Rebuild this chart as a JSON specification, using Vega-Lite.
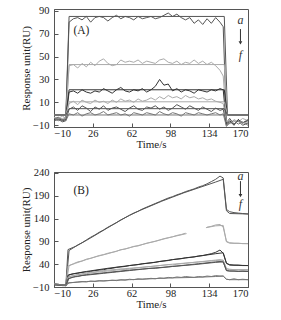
{
"$schema":"https://vega.github.io/schema/vega-lite/v6.json",
"padding":{"left":20,"top":5,"right":4,"bottom":2},
"spacing":17,
"config":{
 "view":{"stroke":"#555","strokeWidth":1},
 "font":"Liberation Serif",
 "axis":{"domainColor":"#555","tickColor":"#555","labelFont":"Liberation Serif","titleFont":"Liberation Serif","labelFontSize":10.5,"titleFontSize":11,"titleFontWeight":"normal","labelColor":"#222","titleColor":"#222","grid":false,"tickSize":-4,"labelOverlap":false},
 "axisX":{"titlePadding":0,"labelPadding":5},
 "axisY":{"titlePadding":1,"labelPadding":9}
},
"datasets":{
"A":[
{"c":"a","k":"d","t":-10,"v":-4},{"c":"a","k":"d","t":-6,"v":-3},{"c":"a","k":"d","t":-2,"v":-5},{"c":"a","k":"d","t":1,"v":-4},{"c":"a","k":"d","t":4,"v":80},{"c":"a","k":"d","t":8,"v":83},{"c":"a","k":"d","t":12,"v":84},{"c":"a","k":"d","t":16,"v":82},{"c":"a","k":"d","t":20,"v":85},{"c":"a","k":"d","t":24,"v":80},{"c":"a","k":"d","t":28,"v":84},{"c":"a","k":"d","t":32,"v":85},{"c":"a","k":"d","t":36,"v":84},{"c":"a","k":"d","t":40,"v":81},{"c":"a","k":"d","t":44,"v":84},{"c":"a","k":"d","t":48,"v":86},{"c":"a","k":"d","t":52,"v":83},{"c":"a","k":"d","t":56,"v":85},{"c":"a","k":"d","t":60,"v":84},{"c":"a","k":"d","t":64,"v":82},{"c":"a","k":"d","t":68,"v":85},{"c":"a","k":"d","t":72,"v":83},{"c":"a","k":"d","t":76,"v":84},{"c":"a","k":"d","t":80,"v":85},{"c":"a","k":"d","t":84,"v":83},{"c":"a","k":"d","t":88,"v":84},{"c":"a","k":"d","t":92,"v":86},{"c":"a","k":"d","t":96,"v":88},{"c":"a","k":"d","t":100,"v":85},{"c":"a","k":"d","t":104,"v":87},{"c":"a","k":"d","t":108,"v":84},{"c":"a","k":"d","t":112,"v":82},{"c":"a","k":"d","t":116,"v":84},{"c":"a","k":"d","t":120,"v":79},{"c":"a","k":"d","t":124,"v":82},{"c":"a","k":"d","t":128,"v":78},{"c":"a","k":"d","t":132,"v":83},{"c":"a","k":"d","t":136,"v":79},{"c":"a","k":"d","t":140,"v":84},{"c":"a","k":"d","t":144,"v":80},{"c":"a","k":"d","t":147,"v":76},{"c":"a","k":"d","t":150,"v":-8},{"c":"a","k":"d","t":153,"v":-4},{"c":"a","k":"d","t":157,"v":-9},{"c":"a","k":"d","t":161,"v":-5},{"c":"a","k":"d","t":165,"v":-8},{"c":"a","k":"d","t":170,"v":-5},
{"c":"b","k":"d","t":-10,"v":-3},{"c":"b","k":"d","t":-6,"v":-5},{"c":"b","k":"d","t":-2,"v":-4},{"c":"b","k":"d","t":1,"v":-3},{"c":"b","k":"d","t":4,"v":42},{"c":"b","k":"d","t":8,"v":43},{"c":"b","k":"d","t":12,"v":40},{"c":"b","k":"d","t":16,"v":44},{"c":"b","k":"d","t":20,"v":41},{"c":"b","k":"d","t":24,"v":45},{"c":"b","k":"d","t":28,"v":42},{"c":"b","k":"d","t":32,"v":46},{"c":"b","k":"d","t":36,"v":48},{"c":"b","k":"d","t":40,"v":44},{"c":"b","k":"d","t":44,"v":42},{"c":"b","k":"d","t":48,"v":43},{"c":"b","k":"d","t":52,"v":47},{"c":"b","k":"d","t":56,"v":45},{"c":"b","k":"d","t":60,"v":46},{"c":"b","k":"d","t":64,"v":45},{"c":"b","k":"d","t":68,"v":47},{"c":"b","k":"d","t":72,"v":44},{"c":"b","k":"d","t":76,"v":46},{"c":"b","k":"d","t":80,"v":45},{"c":"b","k":"d","t":84,"v":44},{"c":"b","k":"d","t":88,"v":47},{"c":"b","k":"d","t":92,"v":48},{"c":"b","k":"d","t":96,"v":45},{"c":"b","k":"d","t":100,"v":44},{"c":"b","k":"d","t":104,"v":46},{"c":"b","k":"d","t":108,"v":43},{"c":"b","k":"d","t":112,"v":45},{"c":"b","k":"d","t":116,"v":44},{"c":"b","k":"d","t":120,"v":47},{"c":"b","k":"d","t":124,"v":44},{"c":"b","k":"d","t":128,"v":46},{"c":"b","k":"d","t":132,"v":43},{"c":"b","k":"d","t":136,"v":45},{"c":"b","k":"d","t":140,"v":42},{"c":"b","k":"d","t":144,"v":38},{"c":"b","k":"d","t":147,"v":33},{"c":"b","k":"d","t":150,"v":-6},{"c":"b","k":"d","t":153,"v":-9},{"c":"b","k":"d","t":157,"v":-5},{"c":"b","k":"d","t":161,"v":-7},{"c":"b","k":"d","t":165,"v":-4},{"c":"b","k":"d","t":170,"v":-6},
{"c":"c","k":"d","t":-10,"v":-5},{"c":"c","k":"d","t":-6,"v":-4},{"c":"c","k":"d","t":-2,"v":-6},{"c":"c","k":"d","t":1,"v":-5},{"c":"c","k":"d","t":4,"v":19},{"c":"c","k":"d","t":8,"v":20},{"c":"c","k":"d","t":12,"v":18},{"c":"c","k":"d","t":16,"v":21},{"c":"c","k":"d","t":20,"v":19},{"c":"c","k":"d","t":24,"v":18},{"c":"c","k":"d","t":28,"v":20},{"c":"c","k":"d","t":32,"v":19},{"c":"c","k":"d","t":36,"v":22},{"c":"c","k":"d","t":40,"v":20},{"c":"c","k":"d","t":44,"v":18},{"c":"c","k":"d","t":48,"v":21},{"c":"c","k":"d","t":52,"v":23},{"c":"c","k":"d","t":56,"v":20},{"c":"c","k":"d","t":60,"v":19},{"c":"c","k":"d","t":64,"v":21},{"c":"c","k":"d","t":68,"v":20},{"c":"c","k":"d","t":72,"v":22},{"c":"c","k":"d","t":76,"v":19},{"c":"c","k":"d","t":80,"v":21},{"c":"c","k":"d","t":84,"v":24},{"c":"c","k":"d","t":88,"v":30},{"c":"c","k":"d","t":92,"v":25},{"c":"c","k":"d","t":96,"v":26},{"c":"c","k":"d","t":100,"v":20},{"c":"c","k":"d","t":104,"v":22},{"c":"c","k":"d","t":108,"v":19},{"c":"c","k":"d","t":112,"v":21},{"c":"c","k":"d","t":116,"v":20},{"c":"c","k":"d","t":120,"v":18},{"c":"c","k":"d","t":124,"v":21},{"c":"c","k":"d","t":128,"v":20},{"c":"c","k":"d","t":132,"v":19},{"c":"c","k":"d","t":136,"v":21},{"c":"c","k":"d","t":140,"v":20},{"c":"c","k":"d","t":144,"v":22},{"c":"c","k":"d","t":147,"v":21},{"c":"c","k":"d","t":150,"v":-9},{"c":"c","k":"d","t":153,"v":-6},{"c":"c","k":"d","t":157,"v":-10},{"c":"c","k":"d","t":161,"v":-5},{"c":"c","k":"d","t":165,"v":-8},{"c":"c","k":"d","t":170,"v":-6},
{"c":"d","k":"d","t":-10,"v":-3},{"c":"d","k":"d","t":-6,"v":-4},{"c":"d","k":"d","t":-2,"v":-2},{"c":"d","k":"d","t":1,"v":-4},{"c":"d","k":"d","t":4,"v":9},{"c":"d","k":"d","t":8,"v":11},{"c":"d","k":"d","t":12,"v":8},{"c":"d","k":"d","t":16,"v":12},{"c":"d","k":"d","t":20,"v":10},{"c":"d","k":"d","t":24,"v":9},{"c":"d","k":"d","t":28,"v":12},{"c":"d","k":"d","t":32,"v":10},{"c":"d","k":"d","t":36,"v":11},{"c":"d","k":"d","t":40,"v":9},{"c":"d","k":"d","t":44,"v":12},{"c":"d","k":"d","t":48,"v":10},{"c":"d","k":"d","t":52,"v":13},{"c":"d","k":"d","t":56,"v":11},{"c":"d","k":"d","t":60,"v":12},{"c":"d","k":"d","t":64,"v":10},{"c":"d","k":"d","t":68,"v":13},{"c":"d","k":"d","t":72,"v":11},{"c":"d","k":"d","t":76,"v":12},{"c":"d","k":"d","t":80,"v":14},{"c":"d","k":"d","t":84,"v":12},{"c":"d","k":"d","t":88,"v":15},{"c":"d","k":"d","t":92,"v":13},{"c":"d","k":"d","t":96,"v":16},{"c":"d","k":"d","t":100,"v":14},{"c":"d","k":"d","t":104,"v":15},{"c":"d","k":"d","t":108,"v":13},{"c":"d","k":"d","t":112,"v":16},{"c":"d","k":"d","t":116,"v":14},{"c":"d","k":"d","t":120,"v":15},{"c":"d","k":"d","t":124,"v":13},{"c":"d","k":"d","t":128,"v":14},{"c":"d","k":"d","t":132,"v":12},{"c":"d","k":"d","t":136,"v":13},{"c":"d","k":"d","t":140,"v":11},{"c":"d","k":"d","t":144,"v":10},{"c":"d","k":"d","t":147,"v":9},{"c":"d","k":"d","t":150,"v":-7},{"c":"d","k":"d","t":153,"v":-5},{"c":"d","k":"d","t":157,"v":-9},{"c":"d","k":"d","t":161,"v":-6},{"c":"d","k":"d","t":165,"v":-8},{"c":"d","k":"d","t":170,"v":-7},
{"c":"e","k":"d","t":-10,"v":-6},{"c":"e","k":"d","t":-6,"v":-5},{"c":"e","k":"d","t":-2,"v":-7},{"c":"e","k":"d","t":1,"v":-6},{"c":"e","k":"d","t":4,"v":4},{"c":"e","k":"d","t":8,"v":6},{"c":"e","k":"d","t":12,"v":3},{"c":"e","k":"d","t":16,"v":7},{"c":"e","k":"d","t":20,"v":5},{"c":"e","k":"d","t":24,"v":2},{"c":"e","k":"d","t":28,"v":6},{"c":"e","k":"d","t":32,"v":4},{"c":"e","k":"d","t":36,"v":7},{"c":"e","k":"d","t":40,"v":3},{"c":"e","k":"d","t":44,"v":5},{"c":"e","k":"d","t":48,"v":6},{"c":"e","k":"d","t":52,"v":4},{"c":"e","k":"d","t":56,"v":2},{"c":"e","k":"d","t":60,"v":5},{"c":"e","k":"d","t":64,"v":7},{"c":"e","k":"d","t":68,"v":4},{"c":"e","k":"d","t":72,"v":3},{"c":"e","k":"d","t":76,"v":6},{"c":"e","k":"d","t":80,"v":5},{"c":"e","k":"d","t":84,"v":7},{"c":"e","k":"d","t":88,"v":4},{"c":"e","k":"d","t":92,"v":6},{"c":"e","k":"d","t":96,"v":3},{"c":"e","k":"d","t":100,"v":5},{"c":"e","k":"d","t":104,"v":8},{"c":"e","k":"d","t":108,"v":6},{"c":"e","k":"d","t":112,"v":4},{"c":"e","k":"d","t":116,"v":7},{"c":"e","k":"d","t":120,"v":5},{"c":"e","k":"d","t":124,"v":3},{"c":"e","k":"d","t":128,"v":6},{"c":"e","k":"d","t":132,"v":4},{"c":"e","k":"d","t":136,"v":2},{"c":"e","k":"d","t":140,"v":5},{"c":"e","k":"d","t":144,"v":3},{"c":"e","k":"d","t":147,"v":4},{"c":"e","k":"d","t":150,"v":-10},{"c":"e","k":"d","t":153,"v":-7},{"c":"e","k":"d","t":157,"v":-9},{"c":"e","k":"d","t":161,"v":-6},{"c":"e","k":"d","t":165,"v":-10},{"c":"e","k":"d","t":170,"v":-8},
{"c":"f","k":"d","t":-10,"v":-4},{"c":"f","k":"d","t":-6,"v":-6},{"c":"f","k":"d","t":-2,"v":-5},{"c":"f","k":"d","t":1,"v":-6},{"c":"f","k":"d","t":4,"v":0},{"c":"f","k":"d","t":8,"v":-1},{"c":"f","k":"d","t":12,"v":1},{"c":"f","k":"d","t":16,"v":-2},{"c":"f","k":"d","t":20,"v":0},{"c":"f","k":"d","t":24,"v":1},{"c":"f","k":"d","t":28,"v":-1},{"c":"f","k":"d","t":32,"v":0},{"c":"f","k":"d","t":36,"v":2},{"c":"f","k":"d","t":40,"v":-1},{"c":"f","k":"d","t":44,"v":0},{"c":"f","k":"d","t":48,"v":1},{"c":"f","k":"d","t":52,"v":-1},{"c":"f","k":"d","t":56,"v":0},{"c":"f","k":"d","t":60,"v":-2},{"c":"f","k":"d","t":64,"v":1},{"c":"f","k":"d","t":68,"v":0},{"c":"f","k":"d","t":72,"v":-1},{"c":"f","k":"d","t":76,"v":1},{"c":"f","k":"d","t":80,"v":0},{"c":"f","k":"d","t":84,"v":-1},{"c":"f","k":"d","t":88,"v":2},{"c":"f","k":"d","t":92,"v":0},{"c":"f","k":"d","t":96,"v":-1},{"c":"f","k":"d","t":100,"v":1},{"c":"f","k":"d","t":104,"v":0},{"c":"f","k":"d","t":108,"v":-2},{"c":"f","k":"d","t":112,"v":1},{"c":"f","k":"d","t":116,"v":0},{"c":"f","k":"d","t":120,"v":-1},{"c":"f","k":"d","t":124,"v":1},{"c":"f","k":"d","t":128,"v":0},{"c":"f","k":"d","t":132,"v":-1},{"c":"f","k":"d","t":136,"v":0},{"c":"f","k":"d","t":140,"v":1},{"c":"f","k":"d","t":144,"v":-1},{"c":"f","k":"d","t":147,"v":0},{"c":"f","k":"d","t":150,"v":-11},{"c":"f","k":"d","t":153,"v":-8},{"c":"f","k":"d","t":157,"v":-6},{"c":"f","k":"d","t":161,"v":-9},{"c":"f","k":"d","t":165,"v":-7},{"c":"f","k":"d","t":170,"v":-10},
{"c":"a","k":"f","t":-10,"v":-1},{"c":"a","k":"f","t":1,"v":-1},{"c":"a","k":"f","t":4,"v":85},{"c":"a","k":"f","t":148,"v":85},{"c":"a","k":"f","t":151,"v":-1},{"c":"a","k":"f","t":170,"v":-1},
{"c":"b","k":"f","t":-10,"v":-1},{"c":"b","k":"f","t":1,"v":-1},{"c":"b","k":"f","t":4,"v":43},{"c":"b","k":"f","t":148,"v":43},{"c":"b","k":"f","t":151,"v":-1},{"c":"b","k":"f","t":170,"v":-1},
{"c":"c","k":"f","t":-10,"v":-1},{"c":"c","k":"f","t":1,"v":-1},{"c":"c","k":"f","t":4,"v":21},{"c":"c","k":"f","t":148,"v":21},{"c":"c","k":"f","t":151,"v":-1},{"c":"c","k":"f","t":170,"v":-1},
{"c":"d","k":"f","t":-10,"v":-1},{"c":"d","k":"f","t":1,"v":-1},{"c":"d","k":"f","t":4,"v":10.5},{"c":"d","k":"f","t":148,"v":10.5},{"c":"d","k":"f","t":151,"v":-1},{"c":"d","k":"f","t":170,"v":-1},
{"c":"e","k":"f","t":-10,"v":-1},{"c":"e","k":"f","t":1,"v":-1},{"c":"e","k":"f","t":4,"v":4.5},{"c":"e","k":"f","t":148,"v":4.5},{"c":"e","k":"f","t":151,"v":-1},{"c":"e","k":"f","t":170,"v":-1},
{"c":"f","k":"f","t":-10,"v":-1},{"c":"f","k":"f","t":170,"v":-1}
],
"B":[
{"c":"a","k":"d","t":-10,"v":-3},{"c":"a","k":"d","t":-6,"v":-4},{"c":"a","k":"d","t":-2,"v":-6},{"c":"a","k":"d","t":1,"v":-7},{"c":"a","k":"d","t":4,"v":70},{"c":"a","k":"d","t":8,"v":76},{"c":"a","k":"d","t":12,"v":82},{"c":"a","k":"d","t":16,"v":87},{"c":"a","k":"d","t":20,"v":93},{"c":"a","k":"d","t":24,"v":99},{"c":"a","k":"d","t":28,"v":104},{"c":"a","k":"d","t":32,"v":110},{"c":"a","k":"d","t":36,"v":115},{"c":"a","k":"d","t":40,"v":121},{"c":"a","k":"d","t":44,"v":126},{"c":"a","k":"d","t":48,"v":131},{"c":"a","k":"d","t":52,"v":137},{"c":"a","k":"d","t":56,"v":142},{"c":"a","k":"d","t":60,"v":147},{"c":"a","k":"d","t":64,"v":152},{"c":"a","k":"d","t":68,"v":156},{"c":"a","k":"d","t":72,"v":161},{"c":"a","k":"d","t":76,"v":165},{"c":"a","k":"d","t":80,"v":169},{"c":"a","k":"d","t":84,"v":173},{"c":"a","k":"d","t":88,"v":177},{"c":"a","k":"d","t":92,"v":181},{"c":"a","k":"d","t":96,"v":185},{"c":"a","k":"d","t":100,"v":188},{"c":"a","k":"d","t":104,"v":192},{"c":"a","k":"d","t":108,"v":195},{"c":"a","k":"d","t":112,"v":199},{"c":"a","k":"d","t":116,"v":202},{"c":"a","k":"d","t":120,"v":205},{"c":"a","k":"d","t":124,"v":209},{"c":"a","k":"d","t":128,"v":212},{"c":"a","k":"d","t":132,"v":216},{"c":"a","k":"d","t":136,"v":221},{"c":"a","k":"d","t":140,"v":226},{"c":"a","k":"d","t":144,"v":233},{"c":"a","k":"d","t":147,"v":229},{"c":"a","k":"d","t":150,"v":160},{"c":"a","k":"d","t":153,"v":155},{"c":"a","k":"d","t":157,"v":153},{"c":"a","k":"d","t":161,"v":152},{"c":"a","k":"d","t":165,"v":151},{"c":"a","k":"d","t":170,"v":150},
{"c":"a","k":"f","t":-10,"v":-4},{"c":"a","k":"f","t":1,"v":-6},{"c":"a","k":"f","t":3,"v":72},{"c":"a","k":"f","t":10,"v":79},{"c":"a","k":"f","t":20,"v":92},{"c":"a","k":"f","t":30,"v":106},{"c":"a","k":"f","t":40,"v":120},{"c":"a","k":"f","t":50,"v":134},{"c":"a","k":"f","t":60,"v":147},{"c":"a","k":"f","t":70,"v":158},{"c":"a","k":"f","t":80,"v":168},{"c":"a","k":"f","t":90,"v":178},{"c":"a","k":"f","t":100,"v":187},{"c":"a","k":"f","t":110,"v":196},{"c":"a","k":"f","t":120,"v":204},{"c":"a","k":"f","t":130,"v":212},{"c":"a","k":"f","t":140,"v":220},{"c":"a","k":"f","t":147,"v":226},{"c":"a","k":"f","t":150,"v":157},{"c":"a","k":"f","t":153,"v":151},{"c":"a","k":"f","t":170,"v":150},
{"c":"b","k":"d","s":1,"t":-10,"v":-4},{"c":"b","k":"d","s":1,"t":-6,"v":-5},{"c":"b","k":"d","s":1,"t":-2,"v":-6},{"c":"b","k":"d","s":1,"t":1,"v":-7},{"c":"b","k":"d","s":1,"t":4,"v":37},{"c":"b","k":"d","s":1,"t":8,"v":41},{"c":"b","k":"d","s":1,"t":12,"v":45},{"c":"b","k":"d","s":1,"t":16,"v":47},{"c":"b","k":"d","s":1,"t":20,"v":51},{"c":"b","k":"d","s":1,"t":24,"v":53},{"c":"b","k":"d","s":1,"t":28,"v":56},{"c":"b","k":"d","s":1,"t":32,"v":59},{"c":"b","k":"d","s":1,"t":36,"v":61},{"c":"b","k":"d","s":1,"t":40,"v":64},{"c":"b","k":"d","s":1,"t":44,"v":66},{"c":"b","k":"d","s":1,"t":48,"v":68},{"c":"b","k":"d","s":1,"t":52,"v":72},{"c":"b","k":"d","s":1,"t":56,"v":73},{"c":"b","k":"d","s":1,"t":60,"v":76},{"c":"b","k":"d","s":1,"t":64,"v":79},{"c":"b","k":"d","s":1,"t":68,"v":80},{"c":"b","k":"d","s":1,"t":72,"v":83},{"c":"b","k":"d","s":1,"t":76,"v":86},{"c":"b","k":"d","s":1,"t":80,"v":88},{"c":"b","k":"d","s":1,"t":84,"v":90},{"c":"b","k":"d","s":1,"t":88,"v":93},{"c":"b","k":"d","s":1,"t":92,"v":96},{"c":"b","k":"d","s":1,"t":96,"v":98},{"c":"b","k":"d","s":1,"t":100,"v":100},{"c":"b","k":"d","s":1,"t":104,"v":103},{"c":"b","k":"d","s":1,"t":108,"v":105},{"c":"b","k":"d","s":1,"t":112,"v":108},
{"c":"b","k":"d","s":2,"t":132,"v":121},{"c":"b","k":"d","s":2,"t":136,"v":123},{"c":"b","k":"d","s":2,"t":140,"v":126},{"c":"b","k":"d","s":2,"t":144,"v":127},{"c":"b","k":"d","s":2,"t":147,"v":121},{"c":"b","k":"d","s":2,"t":150,"v":90},{"c":"b","k":"d","s":2,"t":153,"v":87},{"c":"b","k":"d","s":2,"t":157,"v":86},{"c":"b","k":"d","s":2,"t":161,"v":86},{"c":"b","k":"d","s":2,"t":165,"v":85},{"c":"b","k":"d","s":2,"t":170,"v":85},
{"c":"b","k":"f","s":1,"t":-10,"v":-4},{"c":"b","k":"f","s":1,"t":1,"v":-6},{"c":"b","k":"f","s":1,"t":3,"v":36},{"c":"b","k":"f","s":1,"t":10,"v":42},{"c":"b","k":"f","s":1,"t":20,"v":50},{"c":"b","k":"f","s":1,"t":30,"v":57},{"c":"b","k":"f","s":1,"t":40,"v":63},{"c":"b","k":"f","s":1,"t":50,"v":70},{"c":"b","k":"f","s":1,"t":60,"v":76},{"c":"b","k":"f","s":1,"t":70,"v":82},{"c":"b","k":"f","s":1,"t":80,"v":88},{"c":"b","k":"f","s":1,"t":90,"v":94},{"c":"b","k":"f","s":1,"t":100,"v":100},{"c":"b","k":"f","s":1,"t":113,"v":107},
{"c":"b","k":"f","s":2,"t":131,"v":120},{"c":"b","k":"f","s":2,"t":140,"v":124},{"c":"b","k":"f","s":2,"t":147,"v":125},{"c":"b","k":"f","s":2,"t":150,"v":89},{"c":"b","k":"f","s":2,"t":153,"v":86},{"c":"b","k":"f","s":2,"t":170,"v":85},
{"c":"c","k":"d","t":-10,"v":-4},{"c":"c","k":"d","t":-6,"v":-5},{"c":"c","k":"d","t":-2,"v":-7},{"c":"c","k":"d","t":1,"v":-7},{"c":"c","k":"d","t":4,"v":17},{"c":"c","k":"d","t":8,"v":19},{"c":"c","k":"d","t":12,"v":20},{"c":"c","k":"d","t":16,"v":22},{"c":"c","k":"d","t":20,"v":23},{"c":"c","k":"d","t":24,"v":24},{"c":"c","k":"d","t":28,"v":26},{"c":"c","k":"d","t":32,"v":27},{"c":"c","k":"d","t":36,"v":28},{"c":"c","k":"d","t":40,"v":30},{"c":"c","k":"d","t":44,"v":31},{"c":"c","k":"d","t":48,"v":33},{"c":"c","k":"d","t":52,"v":34},{"c":"c","k":"d","t":56,"v":35},{"c":"c","k":"d","t":60,"v":37},{"c":"c","k":"d","t":64,"v":38},{"c":"c","k":"d","t":68,"v":39},{"c":"c","k":"d","t":72,"v":41},{"c":"c","k":"d","t":76,"v":42},{"c":"c","k":"d","t":80,"v":43},{"c":"c","k":"d","t":84,"v":44},{"c":"c","k":"d","t":88,"v":46},{"c":"c","k":"d","t":92,"v":47},{"c":"c","k":"d","t":96,"v":48},{"c":"c","k":"d","t":100,"v":50},{"c":"c","k":"d","t":104,"v":51},{"c":"c","k":"d","t":108,"v":52},{"c":"c","k":"d","t":112,"v":54},{"c":"c","k":"d","t":116,"v":55},{"c":"c","k":"d","t":120,"v":56},{"c":"c","k":"d","t":124,"v":58},{"c":"c","k":"d","t":128,"v":59},{"c":"c","k":"d","t":132,"v":61},{"c":"c","k":"d","t":136,"v":63},{"c":"c","k":"d","t":140,"v":66},{"c":"c","k":"d","t":144,"v":71},{"c":"c","k":"d","t":147,"v":64},{"c":"c","k":"d","t":150,"v":42},{"c":"c","k":"d","t":153,"v":39},{"c":"c","k":"d","t":157,"v":38},{"c":"c","k":"d","t":161,"v":38},{"c":"c","k":"d","t":165,"v":37},{"c":"c","k":"d","t":170,"v":37},
{"c":"c","k":"f","t":-10,"v":-5},{"c":"c","k":"f","t":1,"v":-6},{"c":"c","k":"f","t":3,"v":16},{"c":"c","k":"f","t":10,"v":20},{"c":"c","k":"f","t":20,"v":24},{"c":"c","k":"f","t":40,"v":31},{"c":"c","k":"f","t":60,"v":37},{"c":"c","k":"f","t":80,"v":43},{"c":"c","k":"f","t":100,"v":50},{"c":"c","k":"f","t":120,"v":56},{"c":"c","k":"f","t":140,"v":63},{"c":"c","k":"f","t":147,"v":65},{"c":"c","k":"f","t":150,"v":42},{"c":"c","k":"f","t":153,"v":38},{"c":"c","k":"f","t":170,"v":37},
{"c":"d","k":"d","t":-10,"v":-3},{"c":"d","k":"d","t":-6,"v":-5},{"c":"d","k":"d","t":-2,"v":-5},{"c":"d","k":"d","t":1,"v":-6},{"c":"d","k":"d","t":4,"v":13},{"c":"d","k":"d","t":8,"v":15},{"c":"d","k":"d","t":12,"v":17},{"c":"d","k":"d","t":16,"v":18},{"c":"d","k":"d","t":20,"v":19},{"c":"d","k":"d","t":24,"v":21},{"c":"d","k":"d","t":28,"v":22},{"c":"d","k":"d","t":32,"v":23},{"c":"d","k":"d","t":36,"v":24},{"c":"d","k":"d","t":40,"v":25},{"c":"d","k":"d","t":44,"v":26},{"c":"d","k":"d","t":48,"v":27},{"c":"d","k":"d","t":52,"v":29},{"c":"d","k":"d","t":56,"v":28},{"c":"d","k":"d","t":60,"v":30},{"c":"d","k":"d","t":64,"v":31},{"c":"d","k":"d","t":68,"v":32},{"c":"d","k":"d","t":72,"v":33},{"c":"d","k":"d","t":76,"v":34},{"c":"d","k":"d","t":80,"v":35},{"c":"d","k":"d","t":84,"v":36},{"c":"d","k":"d","t":88,"v":37},{"c":"d","k":"d","t":92,"v":38},{"c":"d","k":"d","t":96,"v":39},{"c":"d","k":"d","t":100,"v":38},{"c":"d","k":"d","t":104,"v":40},{"c":"d","k":"d","t":108,"v":41},{"c":"d","k":"d","t":112,"v":42},{"c":"d","k":"d","t":116,"v":43},{"c":"d","k":"d","t":120,"v":44},{"c":"d","k":"d","t":124,"v":45},{"c":"d","k":"d","t":128,"v":46},{"c":"d","k":"d","t":132,"v":47},{"c":"d","k":"d","t":136,"v":48},{"c":"d","k":"d","t":140,"v":49},{"c":"d","k":"d","t":144,"v":50},{"c":"d","k":"d","t":147,"v":48},{"c":"d","k":"d","t":150,"v":30},{"c":"d","k":"d","t":153,"v":29},{"c":"d","k":"d","t":157,"v":28},{"c":"d","k":"d","t":161,"v":28},{"c":"d","k":"d","t":165,"v":28},{"c":"d","k":"d","t":170,"v":27},
{"c":"d","k":"f","t":-10,"v":-4},{"c":"d","k":"f","t":1,"v":-6},{"c":"d","k":"f","t":3,"v":12},{"c":"d","k":"f","t":10,"v":16},{"c":"d","k":"f","t":20,"v":21},{"c":"d","k":"f","t":40,"v":27},{"c":"d","k":"f","t":60,"v":31},{"c":"d","k":"f","t":80,"v":35},{"c":"d","k":"f","t":100,"v":40},{"c":"d","k":"f","t":120,"v":44},{"c":"d","k":"f","t":140,"v":48},{"c":"d","k":"f","t":147,"v":49},{"c":"d","k":"f","t":150,"v":30},{"c":"d","k":"f","t":153,"v":28},{"c":"d","k":"f","t":170,"v":28},
{"c":"e","k":"d","t":-10,"v":-5},{"c":"e","k":"d","t":-6,"v":-6},{"c":"e","k":"d","t":-2,"v":-6},{"c":"e","k":"d","t":1,"v":-7},{"c":"e","k":"d","t":4,"v":9},{"c":"e","k":"d","t":8,"v":12},{"c":"e","k":"d","t":12,"v":13},{"c":"e","k":"d","t":16,"v":15},{"c":"e","k":"d","t":20,"v":16},{"c":"e","k":"d","t":24,"v":17},{"c":"e","k":"d","t":28,"v":18},{"c":"e","k":"d","t":32,"v":19},{"c":"e","k":"d","t":36,"v":20},{"c":"e","k":"d","t":40,"v":21},{"c":"e","k":"d","t":44,"v":22},{"c":"e","k":"d","t":48,"v":23},{"c":"e","k":"d","t":52,"v":24},{"c":"e","k":"d","t":56,"v":25},{"c":"e","k":"d","t":60,"v":26},{"c":"e","k":"d","t":64,"v":27},{"c":"e","k":"d","t":68,"v":28},{"c":"e","k":"d","t":72,"v":29},{"c":"e","k":"d","t":76,"v":30},{"c":"e","k":"d","t":80,"v":31},{"c":"e","k":"d","t":84,"v":31},{"c":"e","k":"d","t":88,"v":32},{"c":"e","k":"d","t":92,"v":33},{"c":"e","k":"d","t":96,"v":34},{"c":"e","k":"d","t":100,"v":35},{"c":"e","k":"d","t":104,"v":36},{"c":"e","k":"d","t":108,"v":37},{"c":"e","k":"d","t":112,"v":38},{"c":"e","k":"d","t":116,"v":39},{"c":"e","k":"d","t":120,"v":40},{"c":"e","k":"d","t":124,"v":41},{"c":"e","k":"d","t":128,"v":42},{"c":"e","k":"d","t":132,"v":43},{"c":"e","k":"d","t":136,"v":44},{"c":"e","k":"d","t":140,"v":45},{"c":"e","k":"d","t":144,"v":46},{"c":"e","k":"d","t":147,"v":45},{"c":"e","k":"d","t":150,"v":26},{"c":"e","k":"d","t":153,"v":25},{"c":"e","k":"d","t":157,"v":25},{"c":"e","k":"d","t":161,"v":24},{"c":"e","k":"d","t":165,"v":25},{"c":"e","k":"d","t":170,"v":24},
{"c":"e","k":"f","t":-10,"v":-5},{"c":"e","k":"f","t":1,"v":-6},{"c":"e","k":"f","t":3,"v":8},{"c":"e","k":"f","t":10,"v":13},{"c":"e","k":"f","t":20,"v":17},{"c":"e","k":"f","t":40,"v":22},{"c":"e","k":"f","t":60,"v":27},{"c":"e","k":"f","t":80,"v":31},{"c":"e","k":"f","t":100,"v":35},{"c":"e","k":"f","t":120,"v":39},{"c":"e","k":"f","t":140,"v":44},{"c":"e","k":"f","t":147,"v":45},{"c":"e","k":"f","t":150,"v":26},{"c":"e","k":"f","t":153,"v":25},{"c":"e","k":"f","t":170,"v":24},
{"c":"f","k":"d","t":-10,"v":-3},{"c":"f","k":"d","t":-6,"v":-4},{"c":"f","k":"d","t":-2,"v":-6},{"c":"f","k":"d","t":1,"v":-7},{"c":"f","k":"d","t":4,"v":-1},{"c":"f","k":"d","t":8,"v":0},{"c":"f","k":"d","t":12,"v":1},{"c":"f","k":"d","t":16,"v":2},{"c":"f","k":"d","t":20,"v":1},{"c":"f","k":"d","t":24,"v":3},{"c":"f","k":"d","t":28,"v":2},{"c":"f","k":"d","t":32,"v":4},{"c":"f","k":"d","t":36,"v":3},{"c":"f","k":"d","t":40,"v":4},{"c":"f","k":"d","t":44,"v":5},{"c":"f","k":"d","t":48,"v":4},{"c":"f","k":"d","t":52,"v":6},{"c":"f","k":"d","t":56,"v":5},{"c":"f","k":"d","t":60,"v":7},{"c":"f","k":"d","t":64,"v":6},{"c":"f","k":"d","t":68,"v":8},{"c":"f","k":"d","t":72,"v":7},{"c":"f","k":"d","t":76,"v":8},{"c":"f","k":"d","t":80,"v":9},{"c":"f","k":"d","t":84,"v":8},{"c":"f","k":"d","t":88,"v":10},{"c":"f","k":"d","t":92,"v":9},{"c":"f","k":"d","t":96,"v":11},{"c":"f","k":"d","t":100,"v":10},{"c":"f","k":"d","t":104,"v":12},{"c":"f","k":"d","t":108,"v":11},{"c":"f","k":"d","t":112,"v":13},{"c":"f","k":"d","t":116,"v":12},{"c":"f","k":"d","t":120,"v":11},{"c":"f","k":"d","t":124,"v":13},{"c":"f","k":"d","t":128,"v":12},{"c":"f","k":"d","t":132,"v":14},{"c":"f","k":"d","t":136,"v":13},{"c":"f","k":"d","t":140,"v":15},{"c":"f","k":"d","t":144,"v":14},{"c":"f","k":"d","t":147,"v":14},{"c":"f","k":"d","t":150,"v":7},{"c":"f","k":"d","t":153,"v":6},{"c":"f","k":"d","t":157,"v":8},{"c":"f","k":"d","t":161,"v":6},{"c":"f","k":"d","t":165,"v":7},{"c":"f","k":"d","t":170,"v":6},
{"c":"f","k":"f","t":-10,"v":-5},{"c":"f","k":"f","t":1,"v":-6},{"c":"f","k":"f","t":3,"v":-1},{"c":"f","k":"f","t":20,"v":2},{"c":"f","k":"f","t":40,"v":4},{"c":"f","k":"f","t":60,"v":6},{"c":"f","k":"f","t":80,"v":8},{"c":"f","k":"f","t":100,"v":10},{"c":"f","k":"f","t":120,"v":11},{"c":"f","k":"f","t":140,"v":13},{"c":"f","k":"f","t":147,"v":14},{"c":"f","k":"f","t":150,"v":7},{"c":"f","k":"f","t":153,"v":6},{"c":"f","k":"f","t":170,"v":6}
]
},
"vconcat":[
{
 "width":194,"height":118,
 "encoding":{
  "x":{"field":"t","type":"quantitative","scale":{"domain":[-10,170],"nice":false,"zero":false},"axis":{"values":[-10,26,62,98,134,170],"title":"Time/s","labelOverlap":false,"labelSeparation":0}},
  "y":{"field":"v","type":"quantitative","scale":{"domain":[-11.5,91.5],"nice":false,"zero":false},"axis":{"values":[-10,10,30,50,70,90],"title":"Response unit(RU)","labelOverlap":false,"labelSeparation":0}}
 },
 "layer":[
  {"data":{"values":[{"t":1},{"t":150}]},"mark":{"type":"rule","color":"#bbb","strokeWidth":1},"encoding":{"y":{"datum":-11.5},"y2":{"datum":91.5}}},
  {"data":{"name":"A"},"mark":{"type":"line","strokeWidth":1,"clip":true},
   "encoding":{
    "color":{"field":"c","type":"nominal","scale":{"domain":["a","b","c","d","e","f"],"range":["#555","#aaa","#333","#aaa","#555","#777"]},"legend":null},
    "detail":{"field":"k"},
    "order":{"field":"t","type":"quantitative"}}},
  {"data":{"values":[{"t":8,"v":72,"s":"(A)"}]},"mark":{"type":"text","align":"left","baseline":"middle","fontSize":11.5,"font":"Liberation Serif","color":"#222"},"encoding":{"text":{"field":"s"}}},
  {"data":{"values":[{"t":163,"v":82,"s":"a"},{"t":163,"v":51,"s":"f"}]},"mark":{"type":"text","align":"center","baseline":"middle","fontSize":12,"fontStyle":"italic","font":"Liberation Serif","color":"#333"},"encoding":{"text":{"field":"s"}}},
  {"data":{"values":[{"t":163,"v":74,"v2":63}]},"mark":{"type":"rule","color":"#333","strokeWidth":1},"encoding":{"y2":{"field":"v2"}}},
  {"data":{"values":[{"t":163,"v":62}]},"mark":{"type":"point","shape":"triangle-down","filled":true,"size":14,"color":"#333","opacity":1},"encoding":{}}
 ]
},
{
 "width":194,"height":115,
 "encoding":{
  "x":{"field":"t","type":"quantitative","scale":{"domain":[-10,170],"nice":false,"zero":false},"axis":{"values":[-10,26,62,98,134,170],"title":"Time/s","labelOverlap":false,"labelSeparation":0}},
  "y":{"field":"v","type":"quantitative","scale":{"domain":[-10,242],"nice":false,"zero":false},"axis":{"values":[-10,40,90,140,190,240],"title":"Response unit(RU)","labelOverlap":false,"labelSeparation":0}}
 },
 "layer":[
  {"data":{"values":[{"t":1},{"t":149}]},"mark":{"type":"rule","color":"#bbb","strokeWidth":1},"encoding":{"y":{"datum":-10},"y2":{"datum":242}}},
  {"data":{"name":"B"},"mark":{"type":"line","strokeWidth":1,"clip":true},
   "encoding":{
    "color":{"field":"c","type":"nominal","scale":{"domain":["a","b","c","d","e","f"],"range":["#555","#aaa","#333","#aaa","#777","#444"]},"legend":null},
    "detail":[{"field":"k"},{"field":"s"}],
    "order":{"field":"t","type":"quantitative"}}},
  {"data":{"values":[{"t":8,"v":200,"s":"(B)"}]},"mark":{"type":"text","align":"left","baseline":"middle","fontSize":11.5,"font":"Liberation Serif","color":"#222"},"encoding":{"text":{"field":"s"}}},
  {"data":{"values":[{"t":163,"v":233,"s":"a"},{"t":163,"v":171,"s":"f"}]},"mark":{"type":"text","align":"center","baseline":"middle","fontSize":12,"fontStyle":"italic","font":"Liberation Serif","color":"#333"},"encoding":{"text":{"field":"s"}}},
  {"data":{"values":[{"t":163,"v":222,"v2":192}]},"mark":{"type":"rule","color":"#333","strokeWidth":1},"encoding":{"y2":{"field":"v2"}}},
  {"data":{"values":[{"t":163,"v":190}]},"mark":{"type":"point","shape":"triangle-down","filled":true,"size":14,"color":"#333","opacity":1},"encoding":{}}
 ]
}
]
}
